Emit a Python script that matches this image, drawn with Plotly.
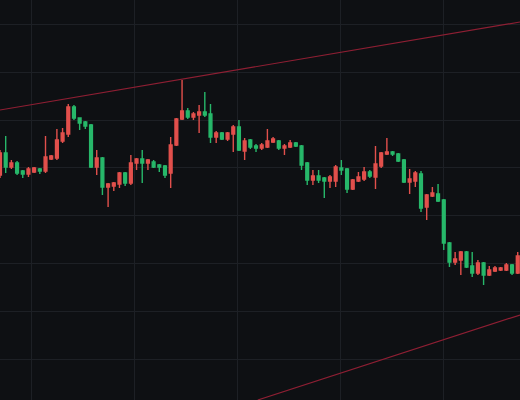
import plotly.graph_objects as go

# candle data (price units)
opens = [225, 247, 233, 237, 229, 226, 228, 231, 229, 241, 242, 259, 266, 293, 282, 278,
         275, 233, 242, 213, 214, 216, 227, 217, 237, 241, 237, 238, 235, 234, 227, 255,
         281, 289, 283, 285, 288, 286, 263, 267, 261, 266, 273, 249, 260, 254,
         252, 253, 258, 259, 252, 253, 257, 254, 237, 220, 224, 222, 219, 219, 232, 231,
         211, 219, 221, 228, 223, 234, 246, 248, 246, 240, 218, 219, 226, 193, 204, 206,
         200, 157, 138, 140, 148, 134, 127, 137, 125, 129, 130, 130, 135, 127]
closes = [247, 233, 237, 227, 226, 231, 232, 229, 243, 244, 260, 267, 293, 282, 277, 274,
          233, 242, 213, 216, 217, 227, 217, 237, 241, 237, 240, 233, 233, 225, 255, 281,
          289, 283, 286, 288, 285, 263, 267, 261, 267, 273, 250, 259, 253, 252,
          255, 259, 261, 252, 254, 257, 254, 235, 220, 224, 220, 219, 223, 233, 230, 211,
          220, 223, 228, 224, 236, 247, 248, 246, 239, 218, 221, 227, 192, 205, 207, 199,
          157, 138, 141, 148, 133, 127, 137, 125, 130, 132, 132, 135, 127, 144]
highs = [250, 264, 240, 239, 230, 233, 233, 232, 264, 245, 271, 272, 296, 295, 282, 279,
         276, 250, 243, 217, 218, 228, 228, 245, 242, 250, 241, 240, 236, 235, 263, 282,
         320, 292, 288, 295, 308, 296, 269, 268, 268, 275, 280, 262, 261, 256,
         257, 271, 263, 260, 256, 260, 258, 255, 238, 230, 230, 223, 225, 235, 240, 232,
         221, 228, 233, 230, 254, 248, 262, 249, 247, 241, 231, 229, 229, 206, 213, 216,
         201, 158, 148, 149, 149, 148, 140, 138, 134, 134, 133, 137, 136, 148]
lows = [222, 227, 231, 225, 222, 223, 227, 226, 227, 240, 240, 257, 263, 280, 270, 271,
        232, 225, 205, 193, 209, 212, 214, 215, 230, 217, 230, 232, 228, 222, 212, 254,
        280, 281, 280, 267, 283, 257, 257, 260, 259, 248, 249, 240, 251, 248,
        250, 252, 257, 250, 245, 252, 253, 230, 215, 215, 217, 202, 212, 213, 225, 207,
        210, 218, 219, 222, 211, 232, 245, 244, 238, 217, 206, 213, 188, 180, 203, 198,
        150, 133, 135, 125, 132, 123, 125, 115, 124, 128, 129, 129, 125, 126]
idx = list(range(1, len(opens) + 1))

# trend channel end points
upper_x = [1, 92.4]
upper_y = [290, 378]
lower_x = [46.3, 92.4]
lower_y = [0, 85]

fig = go.Figure()
fig.add_trace(go.Candlestick(
    x=idx, open=opens, high=highs, low=lows, close=closes,
    increasing=dict(line=dict(color="#e2504c", width=1.4), fillcolor="#e2504c"),
    decreasing=dict(line=dict(color="#27b86a", width=1.4), fillcolor="#27b86a"),
    whiskerwidth=0, showlegend=False, hoverinfo="skip"))
for xs, ys in [(upper_x, upper_y), (lower_x, lower_y)]:
    fig.add_trace(go.Scatter(x=xs, y=ys, mode="lines",
                             line=dict(color="#8e1f33", width=1.2),
                             showlegend=False, hoverinfo="skip"))

grid = "#1d2025"
fig.update_layout(
    width=520, height=400,
    margin=dict(l=0, r=0, t=0, b=0),
    paper_bgcolor="#0e1013", plot_bgcolor="#0e1013",
    xaxis=dict(range=[1, 92.4], rangeslider=dict(visible=False),
               tick0=6.6, dtick=18.1, showgrid=True, gridcolor=grid,
               showticklabels=False, zeroline=False, showline=False),
    yaxis=dict(range=[0, 400], tick0=41, dtick=47.8, showgrid=True,
               gridcolor=grid, showticklabels=False, zeroline=False, showline=False),
)
fig.write_html("out.html", config={"displayModeBar": False},
               post_script="document.body.style.margin='0';"
               "document.body.style.background='#0e1013';")
